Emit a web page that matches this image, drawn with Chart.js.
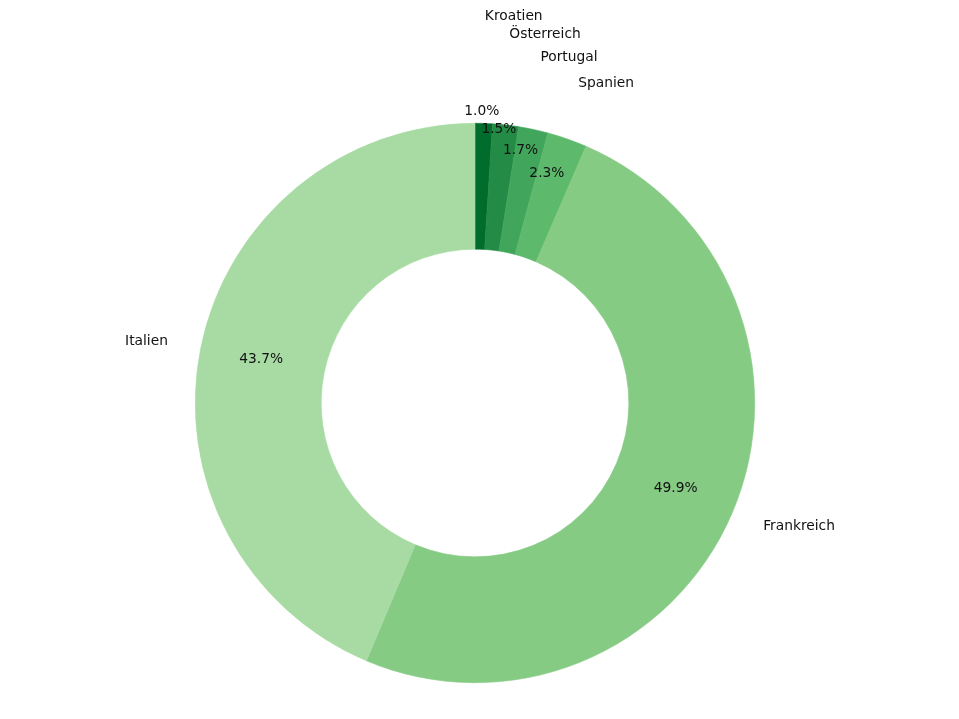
<!DOCTYPE html>
<html>
<head>
<meta charset="utf-8">
<script src="https://cdn.jsdelivr.net/npm/chart.js@4/dist/chart.umd.min.js"></script>
<style>
  html, body { margin: 0; padding: 0; background: #fff; }
  canvas { display: block; }
</style>
</head>
<body>
<canvas id="donut" width="959" height="719"></canvas>
<script>
// ── DATA ──
const COUNTRIES = ['Kroatien', 'Österreich', 'Portugal', 'Spanien', 'Frankreich', 'Italien'];
const SHARES    = [1.0, 1.5, 1.7, 2.3, 49.9, 43.7];
const COLORS    = ['#006d2c', '#238b45', '#41a65b', '#5db96b', '#86cb84', '#a8dba3'];

const FONT = "'DejaVu Sans', sans-serif";

// labels sit at 1.12 R, percentages at 0.78 R; the thin slices get lifted upward (in units of R)
const donutLabelsPlugin = {
  id: 'donutLabels',
  afterDatasetsDraw(chart, args, opts) {
    const { ctx } = chart;
    const meta = chart.getDatasetMeta(0);
    const values = chart.data.datasets[0].data;
    const total = values.reduce((a, b) => a + b, 0);
    ctx.save();
    ctx.font = opts.font;
    ctx.fillStyle = opts.color;
    ctx.textBaseline = 'middle';
    meta.data.forEach((arc, i) => {
      const p = arc.getProps(['x', 'y', 'startAngle', 'endAngle', 'outerRadius'], true);
      const mid = (p.startAngle + p.endAngle) / 2;
      const R = p.outerRadius;
      const cx = Math.cos(mid), cy = Math.sin(mid);
      const lift = opts.lift[i] || 0;

      // category label
      ctx.textAlign = cx >= 0 ? 'left' : 'right';
      ctx.fillText(chart.data.labels[i], p.x + cx * R * opts.labelDistance, p.y + cy * R * opts.labelDistance - lift * R);

      // percentage
      ctx.textAlign = 'center';
      const pct = (values[i] / total * 100).toFixed(1) + '%';
      ctx.fillText(pct, p.x + cx * R * opts.pctDistance, p.y + cy * R * opts.pctDistance - lift * R);
    });
    ctx.restore();
  }
};

new Chart(document.getElementById('donut'), {
  type: 'doughnut',
  data: {
    labels: COUNTRIES,
    datasets: [{
      data: SHARES,
      backgroundColor: COLORS,
      borderColor: COLORS,   // same colour as the fill, hides the antialiasing seams
      borderWidth: 0.6,
      hoverOffset: 0
    }]
  },
  options: {
    responsive: false,
    animation: false,
    cutout: '55%',
    layout: { padding: { top: 123, bottom: 36, left: 0, right: 9 } },
    plugins: {
      legend: { display: false },
      tooltip: { enabled: false },
      donutLabels: {
        font: '13.8px ' + FONT,
        color: '#111',
        labelDistance: 1.12,
        pctDistance: 0.78,
        lift: [0.264, 0.203, 0.142, 0.086]
      }
    }
  },
  plugins: [donutLabelsPlugin]
});
</script>
</body>
</html>
